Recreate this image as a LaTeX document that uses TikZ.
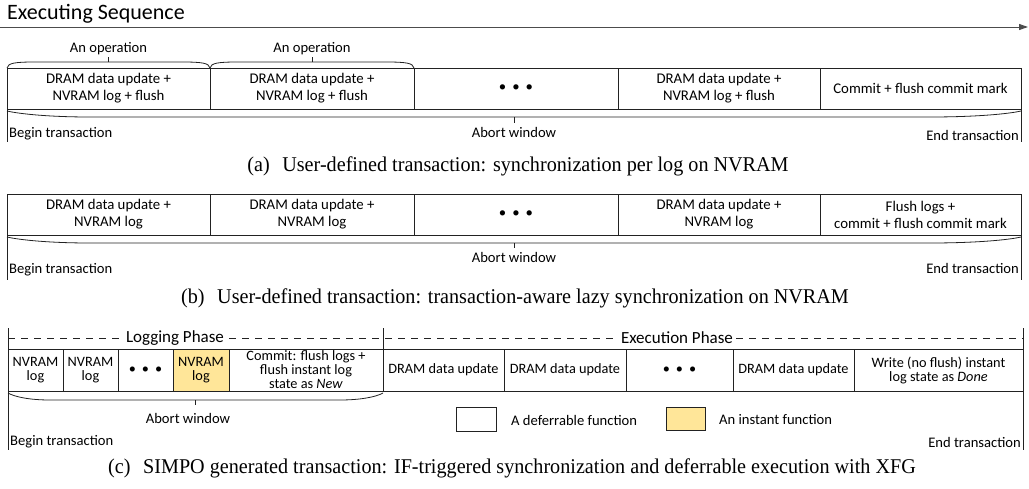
\documentclass[tikz,border=0pt]{standalone}
\usepackage{fontspec}
\setmainfont{Carlito}
\newfontfamily\capfont[FakeStretch=0.96]{Liberation Serif}
\usetikzlibrary{arrows.meta}
\definecolor{instant}{HTML}{FFE699}
\definecolor{linec}{HTML}{222222}
\newcommand{\tdots}{\textbullet\hspace{6pt}\textbullet\hspace{6pt}\textbullet}
\begin{document}
\begin{tikzpicture}[x=1pt,y=-1pt,
  box/.style={draw=linec, line width=0.8pt, inner sep=0pt, outer sep=0pt, align=center, font=\fontsize{14.8}{17}\selectfont},
  cbox/.style={box, font=\fontsize{14.3}{14}\selectfont},
  lbl/.style={font=\fontsize{14.6}{16}\selectfont, inner sep=0pt},
  phase/.style={font=\fontsize{17}{20}\selectfont, inner sep=2pt, fill=white},
  captext/.style={font=\capfont\fontsize{21}{24}\selectfont, inner sep=0pt},
  edge/.style={line width=0.8pt, draw=linec},
  dashline/.style={edge, dash pattern=on 7pt off 6pt},
]
\useasboundingbox (0,0) rectangle (1029,488);

% ---------- title and sequence arrow ----------
\node[anchor=west, font=\fontsize{22}{26}\selectfont, inner sep=0pt] (title) at (7,14) {Executing Sequence};
\coordinate (seqS) at (0,27);
\coordinate (seqE) at (1028,27);
\draw[line width=1pt, draw=black!70, -{Triangle[length=9pt,width=6pt]}] (seqS) -- (seqE);

% ---------- panel (a) ----------
\node[box, minimum width=203pt, minimum height=41pt] (a1) at (108.5,88.5) {DRAM data update +\\NVRAM log + flush};
\node[box, minimum width=204pt, minimum height=41pt] (a2) at (312,88.5) {DRAM data update +\\NVRAM log + flush};
\node[box, minimum width=204pt, minimum height=41pt] (a3) at (516,88.5) {\tdots};
\node[box, minimum width=202pt, minimum height=41pt] (a4) at (719,88.5) {DRAM data update +\\NVRAM log + flush};
\node[box, minimum width=201pt, minimum height=41pt] (a5) at (920.5,88.5) {Commit + flush commit mark};

\draw[edge] (7,68) .. controls (8,63) and (15,62) .. (35,62) -- (182,62) .. controls (202,62) and (209,63) .. (210,68);
\draw[edge] (108.5,62) -- (108.5,57);
\node[lbl] (op1) at (108.5,49) {An operation};
\draw[edge] (210,68) .. controls (211,63) and (218,62) .. (238,62) -- (386,62) .. controls (406,62) and (413,63) .. (414,68);
\draw[edge] (312,62) -- (312,57);
\node[lbl] (op2) at (312,49) {An operation};

\draw[edge] (7,111) .. controls (20,114) and (50,117) .. (90,117) -- (930,117) .. controls (975,117) and (1008,114) .. (1021,111);
\draw[edge] (514,117) -- (514,123);
\node[lbl] (abA) at (514,132) {Abort window};
\draw[edge] (7,68) -- (7,142);
\draw[edge] (1021,68) -- (1021,142);
\node[lbl, anchor=west] (beginA) at (9,134) {Begin transaction};
\node[lbl, anchor=east] (endA) at (1019,135) {End transaction};
\node[captext] (capA) at (518,166) {(a)\hspace{0.6em}User-defined transaction: synchronization per log on NVRAM};

% ---------- panel (b) ----------
\node[box, minimum width=203pt, minimum height=41pt] (b1) at (108.5,214.5) {DRAM data update +\\NVRAM log};
\node[box, minimum width=204pt, minimum height=41pt] (b2) at (312,214.5) {DRAM data update +\\NVRAM log};
\node[box, minimum width=204pt, minimum height=41pt] (b3) at (516,214.5) {\tdots};
\node[box, minimum width=202pt, minimum height=41pt] (b4) at (719,214.5) {DRAM data update +\\NVRAM log};
\node[box, minimum width=201pt, minimum height=41pt] (b5) at (920.5,214.5) {Flush logs +\\commit + flush commit mark};

\draw[edge] (7,237) .. controls (20,240) and (50,243) .. (90,243) -- (930,243) .. controls (975,243) and (1008,240) .. (1021,237);
\draw[edge] (514,243) -- (514,248);
\node[lbl] (abB) at (514,257) {Abort window};
\draw[edge] (7,194) -- (7,280);
\draw[edge] (1021,194) -- (1021,280);
\node[lbl, anchor=west] (beginB) at (9,270) {Begin transaction};
\node[lbl, anchor=east] (endB) at (1019,268) {End transaction};
\node[captext] (capB) at (515,298) {(b)\hspace{0.6em}User-defined transaction: transaction-aware lazy synchronization on NVRAM};

% ---------- panel (c) ----------
\draw[dashline] (8,338) -- (1023,338);
\draw[edge] (8,328) -- (8,450);
\draw[edge] (1023,328) -- (1023,450);
\draw[edge] (383,328) -- (383,349);
\node[phase] (logP) at (175,338) {Logging Phase};
\node[phase] (exeP) at (677,338) {Execution Phase};

\node[cbox, minimum width=55pt, minimum height=42pt] (c1) at (35.5,370) {NVRAM\\log};
\node[cbox, minimum width=55pt, minimum height=42pt] (c2) at (90.5,370) {NVRAM\\log};
\node[cbox, minimum width=55pt, minimum height=42pt] (c3) at (145.5,370) {\tdots};
\node[cbox, fill=instant, minimum width=56pt, minimum height=42pt] (c4) at (201,370) {NVRAM\\log};
\node[cbox, minimum width=154pt, minimum height=42pt] (c5) at (306,370) {Commit: flush logs +\\flush instant log\\state as \textit{New}};
\node[cbox, minimum width=121pt, minimum height=42pt] (c6) at (443.5,370) {DRAM data update};
\node[cbox, minimum width=122pt, minimum height=42pt] (c7) at (565,370) {DRAM data update};
\node[cbox, minimum width=107pt, minimum height=42pt] (c8) at (679.5,370) {\tdots};
\node[cbox, minimum width=121pt, minimum height=42pt] (c9) at (793.5,370) {DRAM data update};
\node[cbox, minimum width=169pt, minimum height=42pt] (c10) at (938.5,370) {Write (no flush) instant\\log state as \textit{Done}};

\draw[edge] (8,393) .. controls (15,397) and (30,400) .. (50,400) -- (340,400) .. controls (360,400) and (376,397) .. (383,393);
\draw[edge] (195,400) -- (195,405);
\node[lbl] (abC) at (188,418) {Abort window};

\node[box, minimum width=40pt, minimum height=24pt] (legD) at (476,419) {};
\node[lbl, anchor=west] (legDt) at (511,420) {A deferrable function};
\node[box, fill=instant, minimum width=39pt, minimum height=23pt] (legI) at (685.5,418.5) {};
\node[lbl, anchor=west] (legIt) at (719,419) {An instant function};

\node[lbl, anchor=west] (beginC) at (10,442) {Begin transaction};
\node[lbl, anchor=east] (endC) at (1021,442) {End transaction};
\node[captext] (capC) at (512,468) {(c)\hspace{0.6em}SIMPO generated transaction: IF-triggered synchronization and deferrable execution with XFG};
\end{tikzpicture}
\end{document}
